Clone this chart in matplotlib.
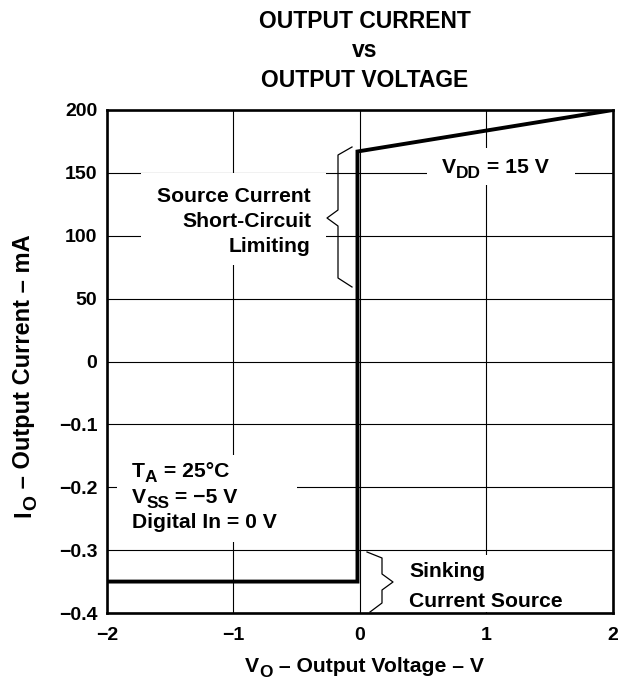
import numpy as np
import matplotlib
matplotlib.use("Agg")
import matplotlib.pyplot as plt
from matplotlib.patches import Rectangle

plt.rcParams['font.family'] = ['Liberation Sans', 'DejaVu Sans']
plt.rcParams['font.weight'] = 'bold'

# curve: V_O in volts, I_O (mA above zero, lower scale below zero)
v_out = [-2.0, -0.02, -0.02, 2.0]
i_out = [-0.35, -0.35, 167, 200]

yticks = [200, 150, 100, 50, 0, -0.1, -0.2, -0.3, -0.4]
ytick_labels = ['200', '150', '100', '50', '0', '\u22120.1', '\u22120.2', '\u22120.3', '\u22120.4']
xticks = [-2, -1, 0, 1, 2]
xtick_labels = ['\u22122', '\u22121', '0', '1', '2']

W, H = 623, 682
FS = 15.2


def fwd(v):
    v = np.asarray(v, dtype=float)
    return np.where(v >= 0, v / 50.0, v / 0.1)


def inv(p):
    p = np.asarray(p, dtype=float)
    return np.where(p >= 0, p * 50.0, p * 0.1)


fig = plt.figure(figsize=(W / 100, H / 100), dpi=100)
ax = fig.add_axes([107 / W, 1 - 613 / H, 506 / W, 503 / H])
ax.set_yscale('function', functions=(fwd, inv))
ax.set_xlim(-2, 2)
ax.set_ylim(-0.4, 200)

ax.set_yticks(yticks)
ax.set_yticklabels(ytick_labels)
ax.set_xticks(xticks)
ax.set_xticklabels(xtick_labels)
ax.minorticks_off()
ax.tick_params(length=0, labelsize=14)
ax.tick_params(axis='y', pad=7)
ax.tick_params(axis='x', pad=10)
ax.grid(True, color='black', linewidth=0.8)
ax.set_axisbelow(True)
for s in ax.spines.values():
    s.set_linewidth(1.9)

ax.plot(v_out, i_out, color='black', linewidth=2.8, solid_joinstyle='miter', zorder=5)


def to_ax(px, py):
    return (np.asarray(px, dtype=float) - 107) / 506, (613 - np.asarray(py, dtype=float)) / 503


# white boxes behind the notes (break the grid lines like the original)
for x0, y0, x1, y1 in [(141, 173, 326, 265), (427, 148, 575, 185),
                       (117, 455, 297, 542), (395, 555, 575, 612)]:
    ax0, ay1 = to_ax(x0, y1)
    ax1, ay0 = to_ax(x1, y0)
    ax.add_patch(Rectangle((ax0, ay1), ax1 - ax0, ay0 - ay1, transform=ax.transAxes,
                           facecolor='white', edgecolor='none', zorder=1))


def brace(pts):
    bx, by = to_ax([p[0] for p in pts], [p[1] for p in pts])
    ax.plot(bx, by, color='black', linewidth=0.9, transform=ax.transAxes,
            clip_on=False, zorder=4)


brace([(352, 147), (338, 155), (338, 210), (327, 218), (338, 226), (338, 278), (352, 287)])
brace([(367, 552), (382, 558), (382, 574), (393, 582), (382, 590), (382, 603), (370, 612)])

renderer = fig.canvas.get_renderer()


def rich(parts, x, y, size=FS, rotation=0, sub_scale=0.82, drop=5):
    # parts: list of (text, is_subscript); x, y = baseline start in pixels from top-left
    widths = []
    for s, sub in parts:
        t = fig.text(0, 0, s, fontsize=size * (sub_scale if sub else 1), fontweight='bold')
        widths.append(t.get_window_extent(renderer).width)
        t.remove()
    pos = 0.0
    for (s, sub), w in zip(parts, widths):
        d = drop if sub else 0
        if rotation == 0:
            px, py = x + pos, y + d
        else:
            px, py = x + d, y - pos
        fig.text(px / W, 1 - py / H, s, fontsize=size * (sub_scale if sub else 1),
                 fontweight='bold', ha='left', va='baseline', rotation=rotation,
                 rotation_mode='anchor')
        pos += w


def line(s, x, y, ha='left', size=FS):
    fig.text(x / W, 1 - y / H, s, fontsize=size, fontweight='bold', ha=ha, va='baseline')


# title
line('OUTPUT CURRENT', 365, 28, ha='center', size=16.5)
line('vs', 365, 57, ha='center', size=16.5)
line('OUTPUT VOLTAGE', 365, 87, ha='center', size=16.5)

# notes
rich([('V', False), ('DD', True), (' = 15 V', False)], 442, 173)
line('Source Current', 311, 202, ha='right')
line('Short-Circuit', 311, 227, ha='right')
line('Limiting', 311, 252, ha='right')
rich([('T', False), ('A', True), (' = 25\u00b0C', False)], 132, 477)
rich([('V', False), ('SS', True), (' = \u22125 V', False)], 132, 503)
line('Digital In = 0 V', 132, 528)
line('Sinking', 409, 577)
line('Current Source', 409, 607)

# axis labels
rich([('V', False), ('O', True), (' \u2013 Output Voltage \u2013 V', False)], 245, 672, size=15.2)
rich([('I', False), ('O', True), (' \u2013 Output Current \u2013 mA', False)], 30, 517,
     size=17, rotation=90, drop=6)

fig.savefig('out.png', dpi=100)
